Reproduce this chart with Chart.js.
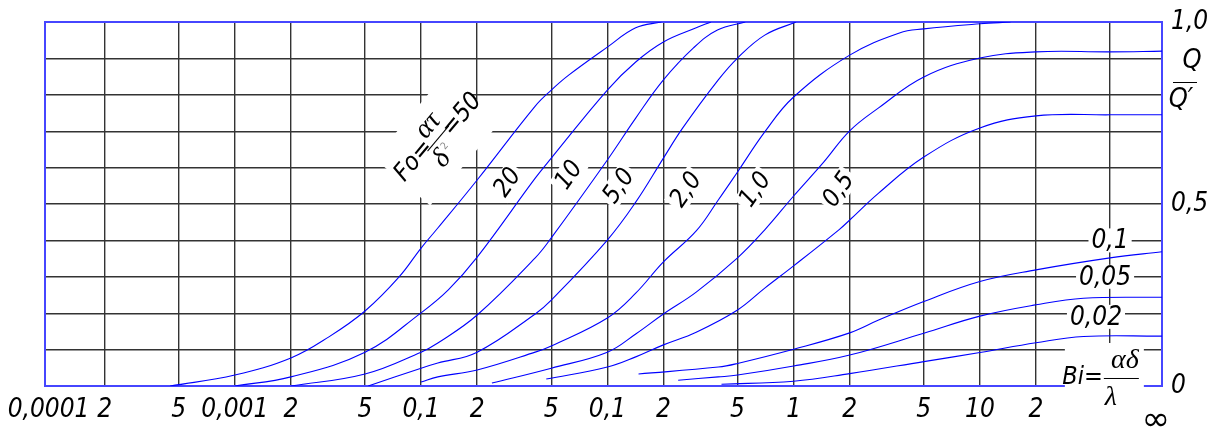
<!DOCTYPE html>
<html>
<head>
<meta charset="utf-8">
<script src="https://cdn.jsdelivr.net/npm/chart.js@4.4.1/dist/chart.umd.min.js"></script>
<style>
  html, body { margin: 0; padding: 0; background: #fff; }
</style>
</head>
<body>
<canvas id="heatChart" width="1213" height="431"></canvas>
<script>
// Q/Q' against Bi, one curve for each Fo
const foNames = ['50', '20', '10', '5,0', '2,0', '1,0', '0,5', '0,1', '0,05', '0,02'];

const fo50Bi = [0.00045, 0.001, 0.002, 0.0032, 0.005, 0.0076, 0.01, 0.0123, 0.02, 0.041, 0.05, 0.062, 0.1, 0.142, 0.195];
const fo50Q  = [0, 0.03, 0.077, 0.135, 0.206, 0.299, 0.379, 0.434, 0.566, 0.769, 0.813, 0.854, 0.931, 0.984, 1.0];

const fo20Bi = [0.001, 0.002, 0.005, 0.01, 0.014, 0.02, 0.041, 0.05, 0.1, 0.142, 0.2, 0.3, 0.36];
const fo20Q  = [0, 0.025, 0.093, 0.201, 0.264, 0.354, 0.571, 0.626, 0.813, 0.89, 0.945, 0.984, 1.0];

const fo10Bi = [0.002, 0.005, 0.01, 0.0123, 0.02, 0.041, 0.05, 0.1, 0.142, 0.2, 0.29, 0.39, 0.55];
const fo10Q  = [0, 0.033, 0.093, 0.118, 0.195, 0.352, 0.407, 0.621, 0.736, 0.841, 0.929, 0.978, 1.0];

const fo5Bi = [0.0052, 0.01, 0.0123, 0.02, 0.041, 0.05, 0.1, 0.142, 0.2, 0.254, 0.394, 0.5, 0.7, 1.03];
const fo5Q  = [0, 0.049, 0.063, 0.093, 0.198, 0.236, 0.401, 0.505, 0.626, 0.709, 0.841, 0.901, 0.964, 1.0];

const fo2Bi = [0.01, 0.0123, 0.02, 0.041, 0.05, 0.1, 0.142, 0.2, 0.3, 0.394, 0.5, 0.7, 1, 2, 3.7, 5, 10, 14.6];
const fo2Q  = [0.011, 0.025, 0.044, 0.093, 0.11, 0.187, 0.255, 0.341, 0.426, 0.511, 0.588, 0.698, 0.794, 0.909, 0.97, 0.981, 0.995, 1.0];

const fo1Bi = [0.024, 0.05, 0.1, 0.142, 0.2, 0.3, 0.5, 0.7, 1, 1.45, 2, 2.86, 5, 10, 20, 50, 95];
const fo1Q  = [0.008, 0.049, 0.093, 0.143, 0.198, 0.258, 0.352, 0.429, 0.522, 0.615, 0.701, 0.764, 0.849, 0.901, 0.918, 0.918, 0.92];

const fo05Bi = [0.047, 0.1, 0.142, 0.2, 0.3, 0.5, 0.7, 1, 1.75, 2, 2.86, 5, 10, 20, 50, 95];
const fo05Q  = [0.019, 0.052, 0.08, 0.113, 0.148, 0.209, 0.269, 0.33, 0.429, 0.456, 0.53, 0.629, 0.709, 0.742, 0.745, 0.745];

const fo01Bi = [0.147, 0.394, 0.5, 1, 2, 2.86, 5, 10, 20, 50, 95];
const fo01Q  = [0.033, 0.052, 0.062, 0.101, 0.146, 0.181, 0.232, 0.287, 0.319, 0.352, 0.369];

const fo005Bi = [0.24, 0.394, 0.5, 1, 2, 5, 10, 20, 36, 95];
const fo005Q  = [0.016, 0.025, 0.03, 0.055, 0.085, 0.145, 0.192, 0.223, 0.241, 0.244];

const fo002Bi = [0.41, 1, 2, 5, 10, 20, 36, 95];
const fo002Q  = [0.005, 0.013, 0.034, 0.067, 0.092, 0.119, 0.136, 0.137];

// axes
const xMin = 0.0000957;
const xMax = 95;   // drawn as infinity
const xTickValues = [0.0001, 0.0002, 0.0005, 0.001, 0.002, 0.005, 0.01, 0.02, 0.05, 0.1, 0.2, 0.5, 1, 2, 5, 10, 20, 50, 95];
const xTickLabels = ['0,0001', '2', '5', '0,001', '2', '5', '0,1', '2', '5', '0,1', '2', '5', '1', '2', '5', '10', '2', '', ''];
const yGridValues = [0, 0.1, 0.2, 0.3, 0.4, 0.5, 0.6, 0.7, 0.8, 0.9, 1];
const yTickValues = [0, 0.5, 1];
const yTickLabels = ['0', '0,5', '1,0'];

// notes written on the drawing
const curveLabelText = ['20', '10', '5,0', '2,0', '1,0', '0,5'];
const curveLabelBi = [0.029, 0.062, 0.115, 0.264, 0.62, 1.74];
const curveLabelQ = [0.56, 0.58, 0.55, 0.54, 0.54, 0.54];

const sideLabelText = ['0,1', '0,05', '0,02'];
const sideLabelBi = [50, 47, 42];
const sideLabelQ = [0.40, 0.30, 0.19];

const foLabelBi = 0.0123, foLabelQ = 0.679;
const biLabelBi = 46.3, biLabelQ = 0.022;

const curves = [
    [fo50Bi, fo50Q], [fo20Bi, fo20Q], [fo10Bi, fo10Q], [fo5Bi, fo5Q], [fo2Bi, fo2Q],
    [fo1Bi, fo1Q], [fo05Bi, fo05Q], [fo01Bi, fo01Q], [fo005Bi, fo005Q], [fo002Bi, fo002Q]
];

const GOST = "'Liberation Sans Narrow', 'DejaVu Sans Condensed', 'Liberation Sans', sans-serif";
const SERIF = "'Liberation Serif', 'DejaVu Serif', serif";
const lineBlue = 'rgb(0,0,255)';
const frameBlue = 'rgb(70,70,255)';
const gridColor = '#333';
const deg = Math.PI / 180;

function textBox(ctx, text, cx, cy, angle, font) {
    ctx.save();
    ctx.translate(cx, cy);
    ctx.rotate(angle);
    ctx.font = font;
    const w = ctx.measureText(text).width;
    ctx.fillStyle = '#fff';
    ctx.fillRect(-w / 2 - 3, -12, w + 6, 24);
    ctx.fillStyle = '#000';
    ctx.textAlign = 'center';
    ctx.textBaseline = 'middle';
    ctx.fillText(text, 0, 1);
    ctx.restore();
}

// keep the plot frame where the layout padding puts it
function noScalePadding(s) {
    s.paddingLeft = 0;
    s.paddingRight = 0;
    s.paddingTop = 0;
    s.paddingBottom = 0;
}

/* ------------------------------
   NOTES, FRAME, Q/Q'
------------------------------- */
const drawNotes = {
    id: 'drawNotes',
    beforeDatasetsDraw(chart) {
        const { ctx, chartArea: a, scales: { x, y } } = chart;

        ctx.save();
        ctx.strokeStyle = frameBlue;
        ctx.lineWidth = 2;
        ctx.strokeRect(a.left, a.top, a.right - a.left, a.bottom - a.top);
        ctx.restore();

        curveLabelText.forEach((t, i) => textBox(ctx, t,
            x.getPixelForValue(curveLabelBi[i]), y.getPixelForValue(curveLabelQ[i]),
            -55 * deg, 'italic 25px ' + GOST));

        sideLabelText.forEach((t, i) => textBox(ctx, t,
            x.getPixelForValue(sideLabelBi[i]), y.getPixelForValue(sideLabelQ[i]),
            0, 'italic 26px ' + GOST));

        // Fo = at/d2 = 50
        ctx.save();
        ctx.translate(x.getPixelForValue(foLabelBi), y.getPixelForValue(foLabelQ));
        ctx.rotate(-50 * deg);
        ctx.fillStyle = '#fff';
        ctx.fillRect(-56, -36, 111, 73);
        ctx.fillStyle = '#000';
        ctx.textAlign = 'center';
        ctx.textBaseline = 'middle';
        ctx.font = 'italic 25px ' + GOST;
        ctx.fillText('Fo=', -32, -4);
        ctx.fillText('=50', 34, 3);
        ctx.font = 'italic 28px ' + SERIF;
        ctx.fillText('ατ', 4, -16);
        ctx.fillText('δ', -13, 16);
        ctx.font = '10px ' + GOST;
        ctx.fillStyle = '#888';
        ctx.fillText('2', -1, 10);
        ctx.strokeStyle = '#000';
        ctx.lineWidth = 1;
        ctx.beginPath();
        ctx.moveTo(-16, 0);
        ctx.lineTo(17, 0);
        ctx.stroke();
        ctx.restore();

        // Bi = ad/l
        const bx = x.getPixelForValue(biLabelBi), by = y.getPixelForValue(biLabelQ);
        ctx.save();
        ctx.fillStyle = '#fff';
        ctx.fillRect(bx - 39, by - 35, 79, chart.height - by + 35);
        ctx.fillStyle = '#000';
        ctx.textBaseline = 'middle';
        ctx.textAlign = 'right';
        ctx.font = 'italic 25px ' + GOST;
        ctx.fillText('Bi=', bx - 1, by);
        ctx.textAlign = 'center';
        ctx.font = 'italic 28px ' + SERIF;
        ctx.fillText('αδ', bx + 21, by - 17);
        ctx.fillText('λ', bx + 7, by + 20);
        ctx.strokeStyle = '#000';
        ctx.lineWidth = 1;
        ctx.beginPath();
        ctx.moveTo(bx, by + 0.5);
        ctx.lineTo(bx + 35, by + 0.5);
        ctx.stroke();
        ctx.restore();
    },
    afterDraw(chart) {
        const { ctx, chartArea: a, scales: { x, y } } = chart;
        ctx.save();
        ctx.fillStyle = '#000';
        ctx.textAlign = 'center';
        ctx.textBaseline = 'middle';
        ctx.font = "34px 'DejaVu Sans', sans-serif";
        ctx.fillText('∞', x.getPixelForValue(xMax) - 6, 421);

        ctx.font = 'italic 27px ' + GOST;
        ctx.fillText('Q', a.right + 30, y.getPixelForValue(0.893));
        ctx.fillText('Q′', a.right + 19, y.getPixelForValue(0.786));
        ctx.strokeStyle = '#000';
        ctx.lineWidth = 1;
        const ly = Math.round(y.getPixelForValue(0.835)) + 0.5;
        ctx.beginPath();
        ctx.moveTo(a.right + 11, ly);
        ctx.lineTo(a.right + 35, ly);
        ctx.stroke();
        ctx.restore();
    }
};

new Chart(heatChart, {
    type: 'line',
    data: {
        datasets: curves.map((c, i) => ({
            label: 'Fo = ' + foNames[i],
            data: c[0].map((b, j) => ({ x: b, y: c[1][j] })),
            borderColor: lineBlue,
            borderWidth: 1.1,
            pointRadius: 0,
            fill: false,
            tension: 0.4
        }))
    },
    options: {
        responsive: false,
        animation: false,
        layout: { padding: { left: 45, top: 22, right: 0, bottom: 0 } },
        plugins: { legend: { display: false }, tooltip: { enabled: false } },
        scales: {
            x: {
                type: 'logarithmic',
                min: xMin,
                max: xMax,
                afterBuildTicks: s => { s.ticks = xTickValues.map(v => ({ value: v })); },
                afterFit: s => { s.height = 45; noScalePadding(s); },
                ticks: {
                    autoSkip: false,
                    maxRotation: 0,
                    padding: 9,
                    color: '#000',
                    font: { family: GOST, size: 26, style: 'italic' },
                    callback: (v, i) => xTickLabels[i]
                },
                grid: {
                    color: c => (c.tick && c.tick.value === xTickValues[0]) ? 'rgba(0,0,0,0)' : gridColor,
                    drawTicks: false,
                    lineWidth: 1.4
                },
                border: { display: false }
            },
            y: {
                position: 'right',
                min: 0,
                max: 1,
                afterBuildTicks: s => { s.ticks = yGridValues.map(v => ({ value: v })); },
                afterFit: s => { s.width = 51; noScalePadding(s); },
                ticks: {
                    autoSkip: false,
                    padding: 9,
                    color: '#000',
                    font: { family: GOST, size: 26, style: 'italic' },
                    callback: v => {
                        const k = yTickValues.indexOf(v);
                        return k < 0 ? '' : yTickLabels[k];
                    }
                },
                grid: { color: gridColor, drawTicks: false, lineWidth: 1.4 },
                border: { display: false }
            }
        }
    },
    plugins: [drawNotes]
});
</script>
</body>
</html>
